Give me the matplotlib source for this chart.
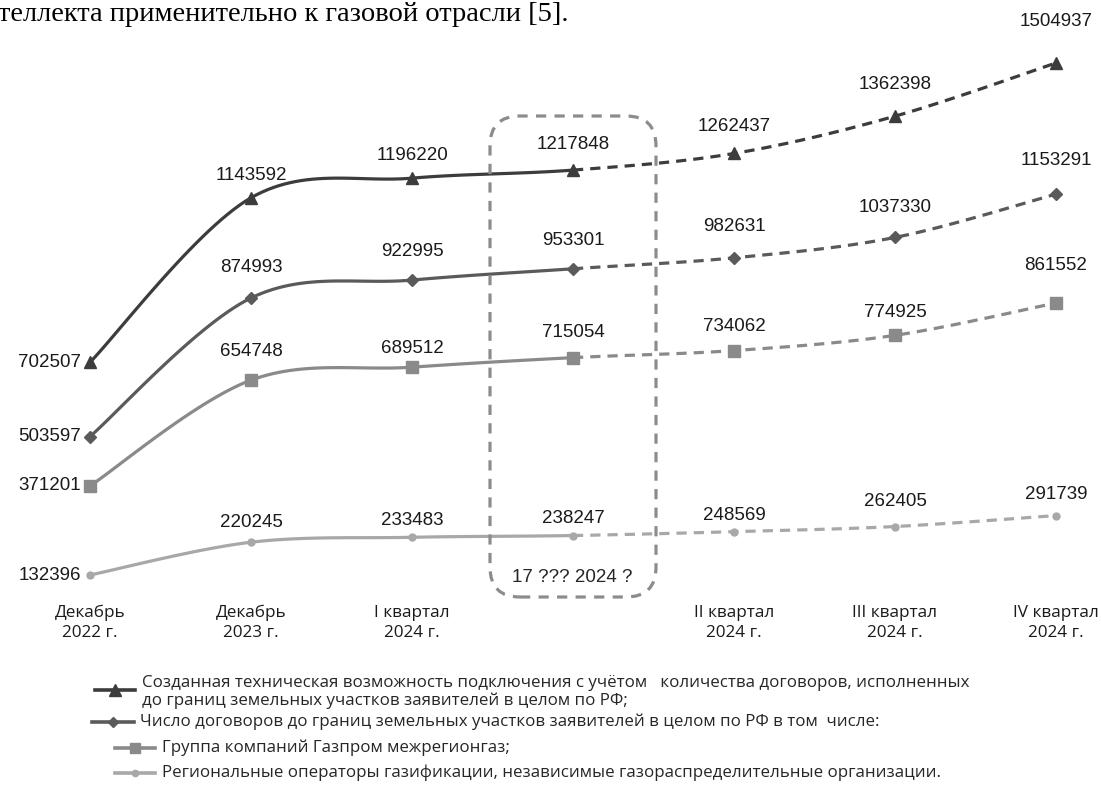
import numpy as np
import matplotlib.pyplot as plt
from matplotlib.lines import Line2D
from matplotlib.patches import FancyBboxPatch
from matplotlib.transforms import IdentityTransform

# --- data ---
periods = ["Декабрь\n2022 г.", "Декабрь\n2023 г.", "I квартал\n2024 г.", "",
           "II квартал\n2024 г.", "III квартал\n2024 г.", "IV квартал\n2024 г."]
s_tech = [702507, 1143592, 1196220, 1217848, 1262437, 1362398, 1504937]
s_contracts = [503597, 874993, 922995, 953301, 982631, 1037330, 1153291]
s_gazprom = [371201, 654748, 689512, 715054, 734062, 774925, 861552]
s_regional = [132396, 220245, 233483, 238247, 248569, 262405, 291739]

legend_texts = [
    "Созданная техническая возможность подключения с учётом   количества договоров, исполненных\n"
    "до границ земельных участков заявителей в целом по РФ;",
    "Число договоров до границ земельных участков заявителей в целом по РФ в том  числе:",
    "Группа компаний Газпром межрегионгаз;",
    "Региональные операторы газификации, независимые газораспределительные организации.",
]
box_text = "17 ??? 2024 ?"
top_text = "теллекта применительно к газовой отрасли [5]."

W, H = 1101, 796
fig = plt.figure(figsize=(W / 100, H / 100), dpi=100)
ax = fig.add_axes([0, 0, 1, 1])
ax.axis('off')

# pixel mapping of the original chart
PX0, PXSTEP = 90, 161
YPX = 2680.7
ax.set_xlim(-PX0 / PXSTEP, (W - PX0) / PXSTEP)
ax.set_ylim(132396 - (H - 575) * YPX, 132396 + 575 * YPX)


def smooth(x, y, n=30):
    # catmull-rom like Excel smoothed line
    x = np.asarray(x, float)
    y = np.asarray(y, float)
    P = np.column_stack([x, y])
    P = np.vstack([P[0], P, P[-1]])
    out = []
    t = np.linspace(0, 1, n)[:, None]
    for i in range(1, len(P) - 2):
        p0, p1, p2, p3 = P[i - 1], P[i], P[i + 1], P[i + 2]
        c1 = p1 + (p2 - p0) / 6
        c2 = p2 - (p3 - p1) / 6
        seg = ((1 - t) ** 3) * p1 + 3 * ((1 - t) ** 2) * t * c1 + 3 * (1 - t) * t ** 2 * c2 + t ** 3 * p2
        out.append(seg if i == 1 else seg[1:])
    return np.vstack(out)


def px(x, y):
    return x / W, 1 - y / H


series = [
    (s_tech, '#3c3c3c', '^', 9, [22, 23, 26, 27, 32, 41]),
    (s_contracts, '#5a5a5a', 'D', 6, [30, 29, 28, 31, 30, 34]),
    (s_gazprom, '#8a8a8a', 's', 8, [29, 19, 25, 24, 23, 37]),
    (s_regional, '#a8a8a8', 'o', 5, [20, 17, 17, 16, 25, 21]),
]

xs = np.arange(len(periods))
lw = 2.3
for vals, col, mk, ms, dys in series:
    curve = smooth(xs, vals)
    n_solid = 3 * 29 + 1
    ax.plot(curve[:n_solid, 0], curve[:n_solid, 1], color=col, lw=lw, solid_capstyle='round', zorder=3)
    ax.plot(curve[n_solid - 1:, 0], curve[n_solid - 1:, 1], color=col, lw=lw, dashes=(3.2, 2.2), zorder=3)
    ax.plot(xs, vals, ls='none', marker=mk, ms=ms, color=col, mec=col, zorder=4)
    ax.annotate(str(vals[0]), (xs[0], vals[0]), xytext=(-9, 0), textcoords='offset pixels',
                ha='right', va='center', fontsize=13.5, family='Liberation Sans', color='#1a1a1a')
    for i in range(1, len(xs)):
        ax.annotate(str(vals[i]), (xs[i], vals[i]), xytext=(0, dys[i - 1]), textcoords='offset pixels',
                    ha='center', va='center', fontsize=13.5, family='Liberation Sans', color='#1a1a1a')

# category labels
for i, lab in enumerate(periods):
    if lab:
        ax.text(xs[i], 132396 - (623 - 575) * YPX, lab, ha='center', va='center', fontsize=12.3,
                family='Open Sans', color='#1a1a1a', linespacing=1.38)

# dashed rounded box around the current date
box = FancyBboxPatch((490 + 30, H - 597 + 30), 656 - 490 - 60, 597 - 116 - 60,
                     boxstyle='round,pad=30,rounding_size=30', transform=IdentityTransform(),
                     fill=False, ec='#8c8c8c', lw=2.3, ls=(0, (3.2, 2.6)), zorder=2)
fig.add_artist(box)
ax.text(*px(572, 577), box_text, transform=ax.transAxes, ha='center', va='center',
        fontsize=13.5, family='Liberation Sans', color='#262626')

# legend
leg_rows = [
    (95, 135, 690, 142, 692),
    (92, 134, 722, 140, 722),
    (115, 155, 748, 162, 748),
    (115, 155, 773, 162, 773),
]
for (vals, col, mk, ms, dys), (x0, x1, yh, xt, yt), txt in zip(series, leg_rows, legend_texts):
    (ax0, ay), (ax1, _) = px(x0, yh), px(x1, yh)
    ax.add_line(Line2D([ax0, ax1], [ay, ay], color=col, lw=2.6, transform=ax.transAxes))
    ax.add_line(Line2D([(ax0 + ax1) / 2], [ay], color=col, marker=mk, ms=ms * 0.9, ls='none',
                       transform=ax.transAxes))
    ax.text(*px(xt, yt), txt, transform=ax.transAxes, ha='left', va='center', fontsize=12.2,
            family='Open Sans', color='#262626', linespacing=1.1)

# cut document text above the chart
ax.text(*px(-2, 21), top_text, transform=ax.transAxes, ha='left', va='baseline',
        fontsize=20.5, family='Liberation Serif', color='black')

fig.savefig('out.png', dpi=100)
